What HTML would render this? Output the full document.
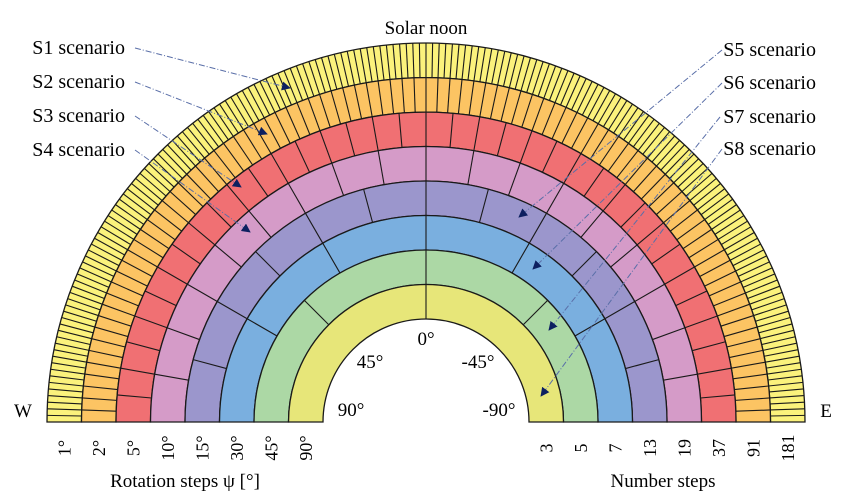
<!DOCTYPE html>
<html><head><meta charset="utf-8"><style>
body{margin:0;background:#fff;}
svg{display:block;font-family:"Liberation Serif",serif;}
</style></head><body>
<svg id="c" width="844" height="503" viewBox="0 0 844 503">
<defs><marker id="ah" viewBox="0 0 10 10" refX="9" refY="5" markerWidth="9" markerHeight="9" orient="auto" markerUnits="userSpaceOnUse"><path d="M0,0 L10,5 L0,10 z" fill="#0d2060"/></marker></defs>
<g id="rings"></g>
<g id="labels"></g>
</svg>
<script>
const stepDegrees = [1, 2, 5, 10, 15, 30, 45, 90];
const stepCounts = [181, 91, 37, 19, 13, 7, 5, 3];
const ringColors = ["#fbf27c","#fcc463","#f07073","#d59bc8","#9b96cc","#7aafdf","#acd8a5","#e7e679"];
const scenarioNames = ["S1 scenario","S2 scenario","S3 scenario","S4 scenario","S5 scenario","S6 scenario","S7 scenario","S8 scenario"];
const NS="http://www.w3.org/2000/svg";
const cx=426, cy=422, rOut=379, rIn=103;
const w=(rOut-rIn)/stepDegrees.length;
const rg=document.getElementById('rings'), lg=document.getElementById('labels');
function mk(tag,attrs,parent){const e=document.createElementNS(NS,tag);for(const k in attrs)e.setAttribute(k,attrs[k]);parent.appendChild(e);return e;}
function pt(r,deg){const a=deg*Math.PI/180;return [cx-r*Math.cos(a), cy-r*Math.sin(a)];}
stepDegrees.forEach((d,i)=>{
  const ro=rOut-i*w, ri=ro-w;
  const p=mk('path',{d:`M${cx-ro},${cy} A${ro},${ro} 0 0 1 ${cx+ro},${cy} L${cx+ri},${cy} A${ri},${ri} 0 0 0 ${cx-ri},${cy} Z`,fill:ringColors[i],stroke:'#1a1a1a','stroke-width':1.3},rg);
  
  
  for(let a=d;a<180-1e-6;a+=d){
    const [x1,y1]=pt(ri,a),[x2,y2]=pt(ro,a);
    const l=mk('line',{x1,y1,x2,y2,stroke:'#1a1a1a','stroke-width':1.1},rg);
    
    
  }
  const lx=cx-ro+w/2;
  const t=mk('text',{x:0,y:0,transform:`translate(${lx+6},${448}) rotate(-90)`,'font-size':18,'text-anchor':'middle'},lg);
  t.textContent=d+'°';
  
  
  const rx=cx+ro-w/2;
  const t2=mk('text',{x:0,y:0,transform:`translate(${rx+6},${448}) rotate(-90)`,'font-size':18,'text-anchor':'middle'},lg);
  t2.textContent=stepCounts[i];
  
  
});
const texts=[["Solar noon",426,34,'middle'],["W",23,417,'middle'],["E",826,417,'middle'],["0°",426,345,'middle'],["45°",370,368,'middle'],["-45°",478,368,'middle'],["90°",351,416,'middle'],["-90°",499,416,'middle'],["Rotation steps ψ [°]",185,487,'middle'],["Number steps",663,487,'middle']];
texts.forEach(([s,x,y,a])=>{const t=mk('text',{x,y,'font-size':19,'text-anchor':a},lg);t.textContent=s;

});
const starts=[[130,48],[130,82],[130,116],[130,150],[722,50],[722,83],[720,117],[722,149]];
const ends=[[290,88],[267,134],[241,187],[250,232],[519,217],[533,269],[549,330],[541,396]];
scenarioNames.forEach((n,i)=>{
  const left=i<4;
  const t=mk('text',{x:left?125:816,y:starts[i][1]+6,'font-size':20,'text-anchor':'end'},lg);
  t.textContent=n;
  
  
  const l=mk('line',{x1:left?starts[i][0]+5:starts[i][0],y1:starts[i][1],x2:ends[i][0],y2:ends[i][1],stroke:'#5a6fa8','stroke-width':1,'stroke-dasharray':'6 2 1 2','marker-end':'url(#ah)'},lg);
  
  
});
</script>
</body></html>
